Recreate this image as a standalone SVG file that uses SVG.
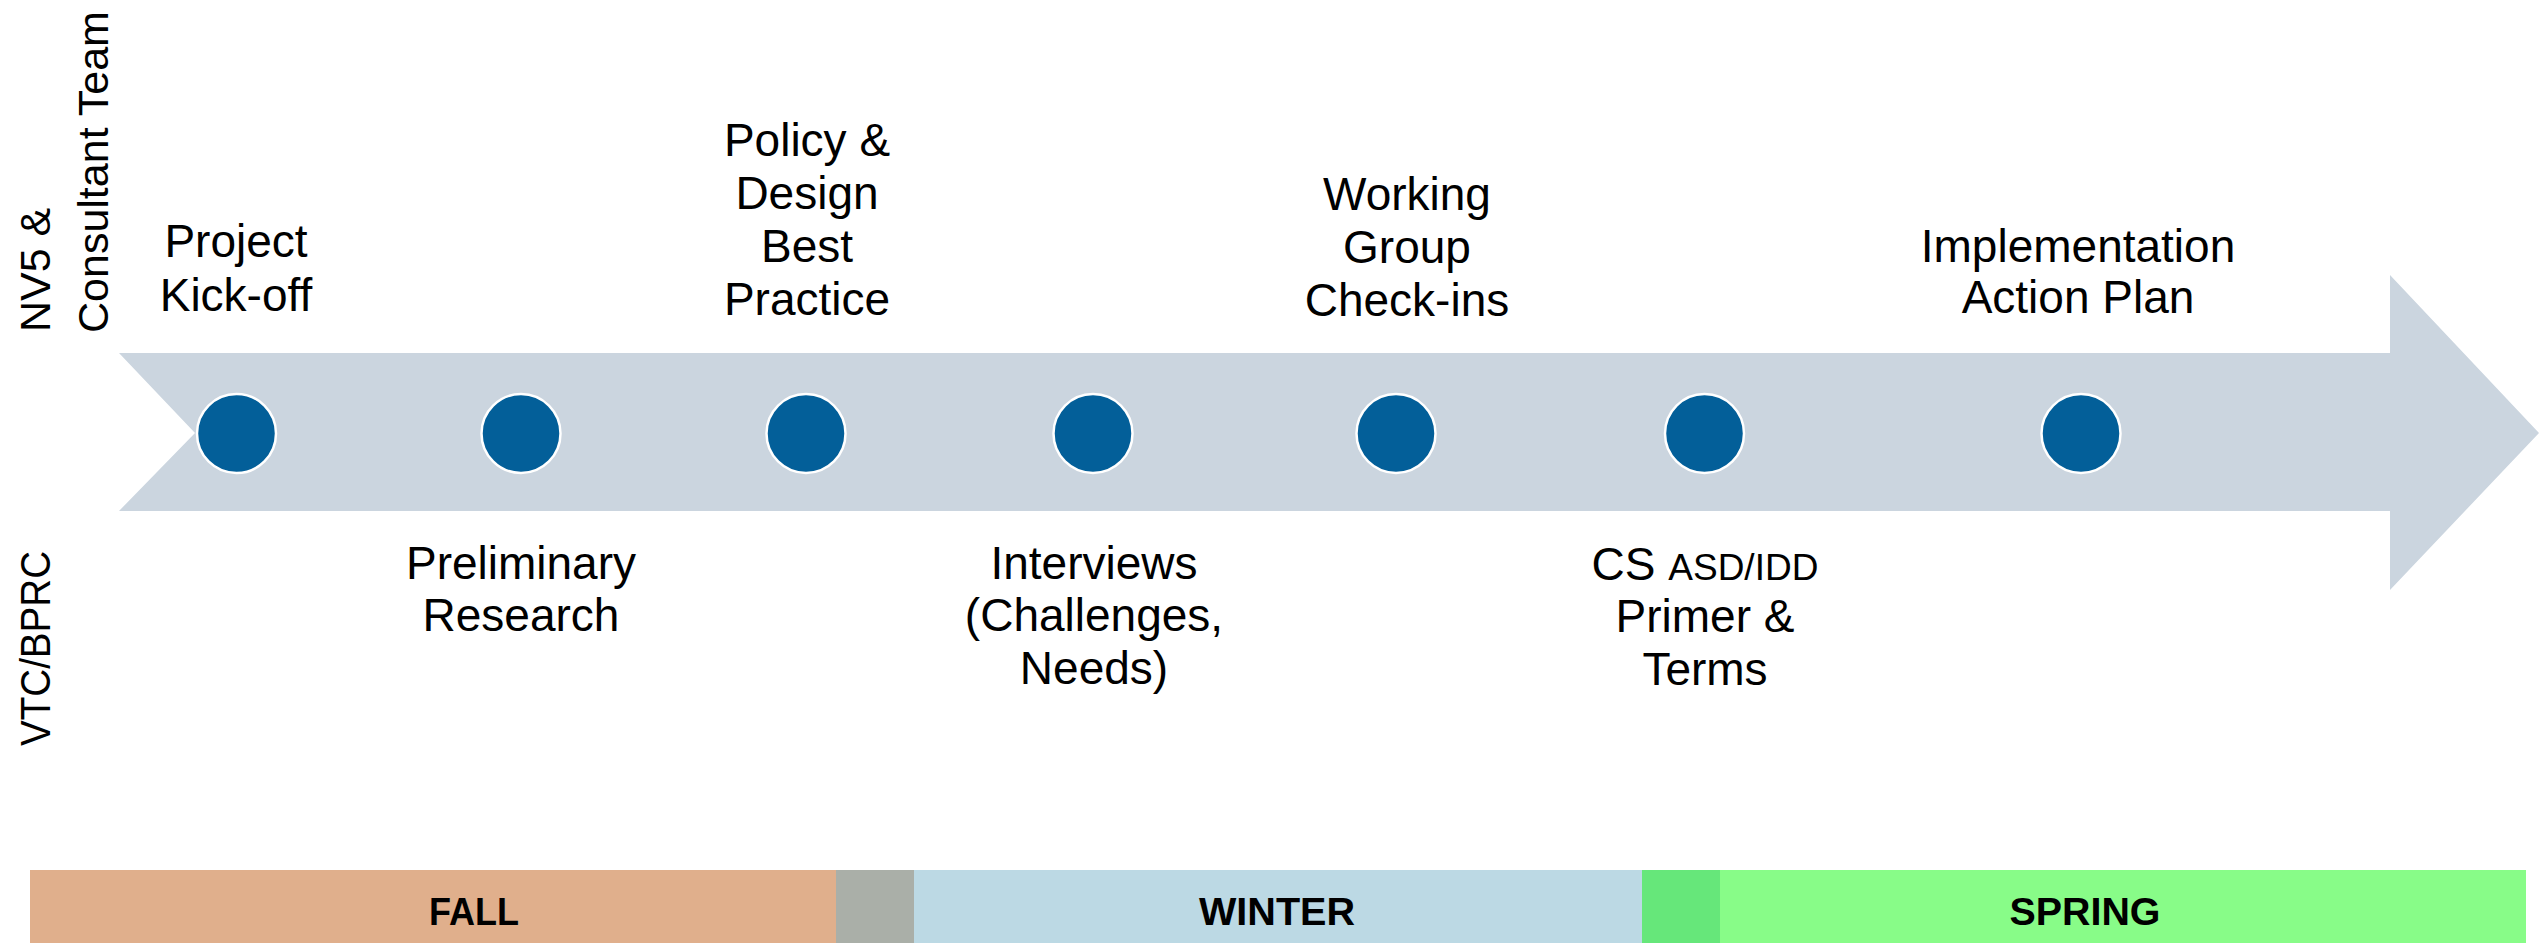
<svg xmlns="http://www.w3.org/2000/svg" width="2539" height="943" viewBox="0 0 2539 943">
  <style>
    .lbl { font-family: "Liberation Sans", Arial, sans-serif; font-size: 46px; fill: #000; text-anchor: middle; }
    .small { font-size: 37px; }
    .side { font-family: "Liberation Sans", Arial, sans-serif; font-size: 43px; fill: #000; }
    .season { font-family: "Liberation Sans", Arial, sans-serif; font-size: 39px; font-weight: bold; fill: #000; text-anchor: middle; }
    .dot { fill: #035F99; stroke: #FFFFFF; stroke-width: 2.5; }
  </style>
  <rect x="0" y="0" width="2539" height="943" fill="#FFFFFF"/>

  <g id="connectors">
    <polygon id="timeline-arrow" points="119,353 2390,353 2390,275 2539,433 2390,590 2390,511 119,511 195,433" fill="#CBD5DF"/>
  </g>

  <g id="side-labels">
    <text class="side" transform="translate(50,332) rotate(-90)">NV5 &amp;</text>
    <text class="side" transform="translate(108,333) rotate(-90)">Consultant Team</text>
    <text class="side" transform="translate(50,746) rotate(-90)" textLength="195" lengthAdjust="spacingAndGlyphs">VTC/BPRC</text>
  </g>

  <g id="node-kickoff">
    <circle class="dot" cx="236.5" cy="433.5" r="39.5"/>
    <text class="lbl" x="236" y="257">Project</text>
    <text class="lbl" x="236" y="311">Kick-off</text>
  </g>

  <g id="node-research">
    <circle class="dot" cx="521" cy="433.5" r="39.5"/>
    <text class="lbl" x="521" y="579">Preliminary</text>
    <text class="lbl" x="521" y="631">Research</text>
  </g>

  <g id="node-policy">
    <circle class="dot" cx="806" cy="433.5" r="39.5"/>
    <text class="lbl" x="807" y="156">Policy &amp;</text>
    <text class="lbl" x="807" y="209">Design</text>
    <text class="lbl" x="807" y="262">Best</text>
    <text class="lbl" x="807" y="315">Practice</text>
  </g>

  <g id="node-interviews">
    <circle class="dot" cx="1093" cy="433.5" r="39.5"/>
    <text class="lbl" x="1094" y="579">Interviews</text>
    <text class="lbl" x="1094" y="631">(Challenges,</text>
    <text class="lbl" x="1094" y="684">Needs)</text>
  </g>

  <g id="node-working">
    <circle class="dot" cx="1396" cy="433.5" r="39.5"/>
    <text class="lbl" x="1407" y="210">Working</text>
    <text class="lbl" x="1407" y="263">Group</text>
    <text class="lbl" x="1407" y="316">Check-ins</text>
  </g>

  <g id="node-primer">
    <circle class="dot" cx="1704.5" cy="433.5" r="39.5"/>
    <text class="lbl" x="1705" y="580">CS <tspan class="small">ASD/IDD</tspan></text>
    <text class="lbl" x="1705" y="632">Primer &amp;</text>
    <text class="lbl" x="1705" y="685">Terms</text>
  </g>

  <g id="node-implementation">
    <circle class="dot" cx="2081" cy="433.5" r="39.5"/>
    <text class="lbl" x="2078" y="262">Implementation</text>
    <text class="lbl" x="2078" y="313">Action Plan</text>
  </g>

  <g id="season-bar">
    <rect x="30" y="870" width="806" height="73" fill="#E0AF8C"/>
    <rect x="836" y="870" width="78" height="73" fill="#AAAFA8"/>
    <rect x="914" y="870" width="728" height="73" fill="#BCD9E4"/>
    <rect x="1642" y="870" width="78" height="73" fill="#66E77A"/>
    <rect x="1720" y="870" width="806" height="73" fill="#88FC88"/>
    <text class="season" x="474" y="925" textLength="90" lengthAdjust="spacingAndGlyphs">FALL</text>
    <text class="season" x="1277" y="925" textLength="156" lengthAdjust="spacingAndGlyphs">WINTER</text>
    <text class="season" x="2085" y="925" textLength="151" lengthAdjust="spacingAndGlyphs">SPRING</text>
  </g>
</svg>
